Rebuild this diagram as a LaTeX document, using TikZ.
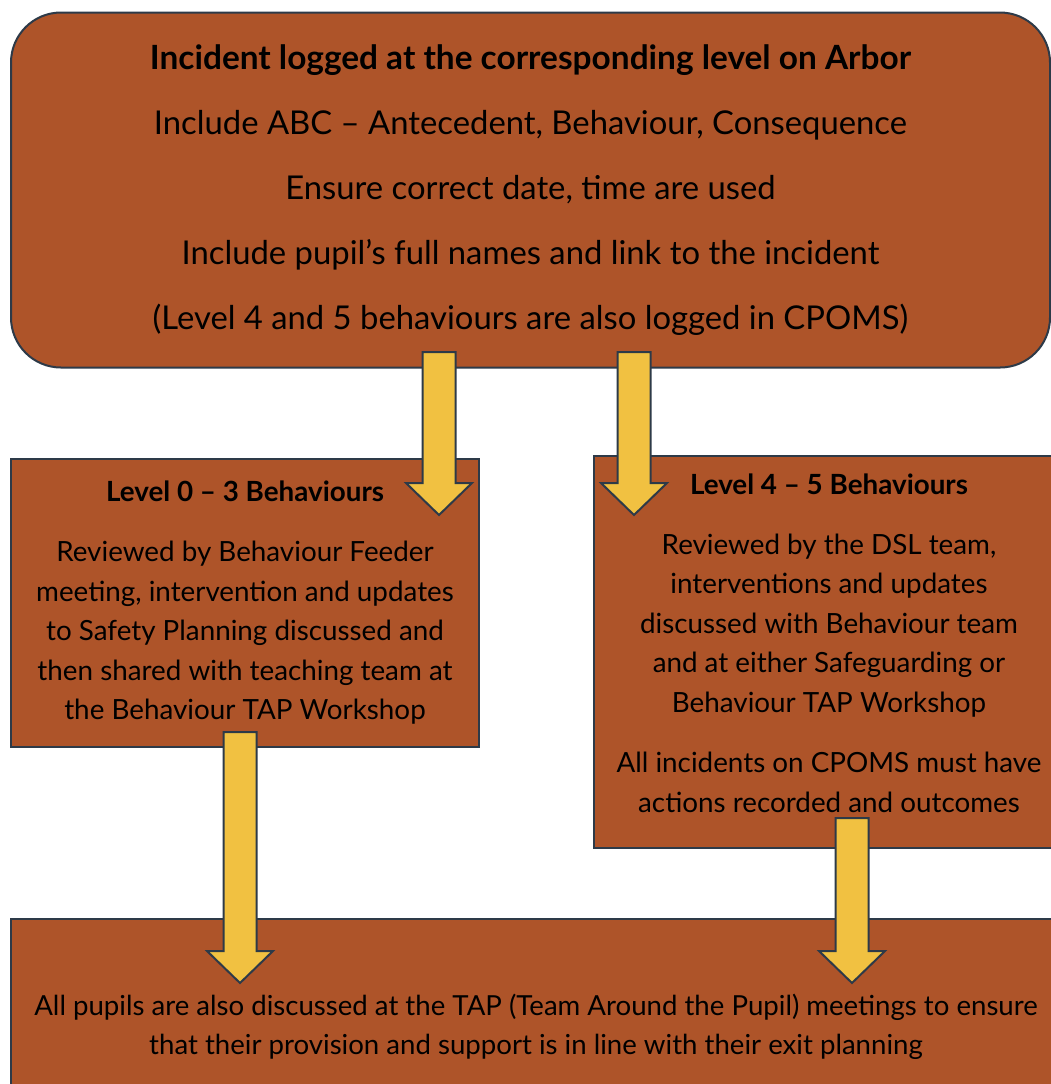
\documentclass[tikz,border=0pt]{standalone}
\usepackage{fontspec}
\setmainfont{Lato}
\usetikzlibrary{calc}

\definecolor{rust}{RGB}{174,84,41}
\definecolor{edge}{RGB}{45,58,72}
\definecolor{mustard}{RGB}{241,193,65}

\tikzset{
  stepbox/.style={draw=edge, line width=1pt, fill=rust, anchor=north west,
    inner sep=0pt, align=center, text=black},
  fatarrow/.style={draw=edge, line width=1pt, fill=mustard, line join=miter}
}

% block arrow going down from #1 to the tip #2
\newcommand{\downblock}[2]{%
  \draw[fatarrow] let \p1=(#1), \p2=(#2) in
    (\x1-8.25pt,\y1) -- (\x1+8.25pt,\y1) -- (\x1+8.25pt,\y2+16pt)
    -- (\x1+16.5pt,\y2+16pt) -- (\x1,\y2) -- (\x1-16.5pt,\y2+16pt)
    -- (\x1-8.25pt,\y2+16pt) -- cycle;}

\begin{document}
\begin{tikzpicture}[x=0.5pt,y=-0.5pt]

    \useasboundingbox[fill=white] (0,0) rectangle (1051,1084);
    \clip (0,0) rectangle (1051,1084);

    \node (logged) [stepbox, rounded corners=25pt, minimum width=519.5pt, minimum height=177.5pt,
      font=\fontsize{16.4}{32.5}\selectfont] at (10,11.5)
      {{\fontsize{16.7}{32.5}\selectfont\textbf{Incident logged at the corresponding level on Arbor}}\\
       Include ABC -- Antecedent, Behaviour, Consequence\\
       Ensure correct date, time are used\\
       Include pupil’s full names and link to the incident\\
       (Level 4 and 5 behaviours are also logged in CPOMS)};

    \node (low) [stepbox, minimum width=234pt, minimum height=144pt,
      font=\fontsize{13.9}{19.75}\selectfont] at (10,458)
      {\textbf{Level 0 -- 3 Behaviours}\\[10.25pt]
       Reviewed by Behaviour Feeder\\
       meeting, intervention and updates\\
       to Safety Planning discussed and\\
       then shared with teaching team at\\
       the Behaviour TAP Workshop};

    \node (high) [stepbox, minimum width=235pt, minimum height=196pt,
      font=\fontsize{13.9}{19.75}\selectfont] at (593,455)
      {\textbf{Level 4 -- 5 Behaviours}\\[10pt]
       Reviewed by the DSL team,\\
       interventions and updates\\
       discussed with Behaviour team\\
       and at either Safeguarding or\\
       Behaviour TAP Workshop\\[10.5pt]
       All incidents on CPOMS must have\\
       actions recorded and outcomes\\[-10.75pt]\mbox{}};

    \node (tap) [stepbox, minimum width=525pt, minimum height=108pt,
      font=\fontsize{13.8}{19.5}\selectfont] at (10,918)
      {All pupils are also discussed at the TAP (Team Around the Pupil) meetings to ensure\\
       that their provision and support is in line with their exit planning};

    % arrow ends
    \coordinate (s1) at (439,352);  \coordinate (t1) at (439,515);
    \coordinate (s2) at (634,352);  \coordinate (t2) at (634,515);
    \coordinate (s3) at (240,732);  \coordinate (t3) at (240,983);
    \coordinate (s4) at (852,818);  \coordinate (t4) at (852,983);

    \downblock{s1}{t1}
    \downblock{s2}{t2}
    \downblock{s3}{t3}
    \downblock{s4}{t4}

\end{tikzpicture}
\end{document}
